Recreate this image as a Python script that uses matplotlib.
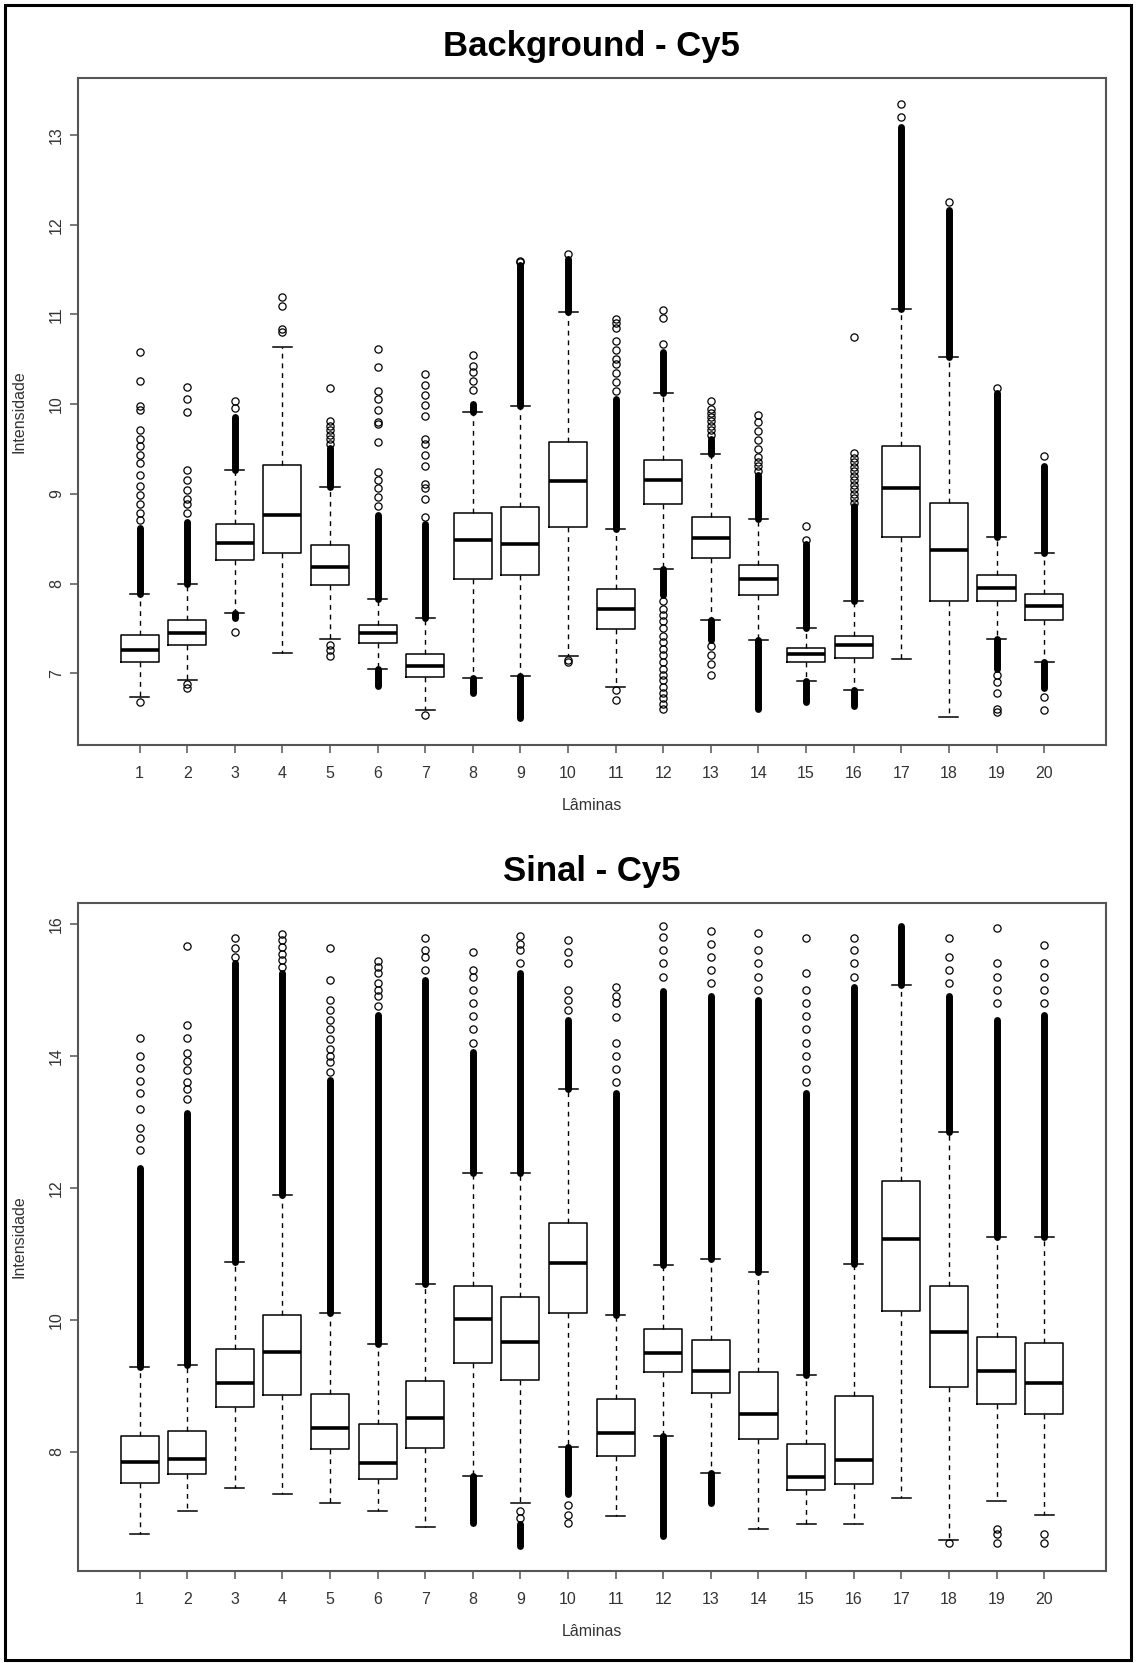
import matplotlib
matplotlib.use('Agg')
import matplotlib.pyplot as plt
from matplotlib.patches import Rectangle

plt.rcParams['font.family'] = ['Liberation Sans', 'DejaVu Sans']

# ---------------- data ----------------
laminas = ['1', '2', '3', '4', '5', '6', '7', '8', '9', '10',
           '11', '12', '13', '14', '15', '16', '17', '18', '19', '20']

# Background - Cy5
bg_whislo = [6.73, 6.92, 7.67, 7.23, 7.38, 7.05, 6.59, 6.95, 6.97, 7.19,
             6.85, 8.16, 7.59, 7.37, 6.91, 6.81, 7.16, 6.51, 7.38, 7.13]
bg_q1 = [7.13, 7.32, 8.26, 8.34, 7.98, 7.34, 6.96, 8.05, 8.09, 8.63,
         7.49, 8.89, 8.28, 7.87, 7.12, 7.17, 8.52, 7.80, 7.80, 7.59]
bg_med = [7.26, 7.45, 8.45, 8.76, 8.18, 7.45, 7.08, 8.49, 8.44, 9.14,
          7.72, 9.15, 8.51, 8.05, 7.21, 7.31, 9.07, 8.37, 7.95, 7.75]
bg_q3 = [7.43, 7.59, 8.66, 9.32, 8.43, 7.54, 7.22, 8.79, 8.85, 9.58,
         7.94, 9.38, 8.74, 8.21, 7.28, 7.42, 9.53, 8.90, 8.09, 7.88]
bg_whishi = [7.88, 7.99, 9.27, 10.64, 9.08, 7.83, 7.62, 9.91, 9.98, 11.03,
             8.61, 10.13, 9.44, 8.72, 7.51, 7.80, 11.06, 10.53, 8.52, 8.34]
# ranges where the outlier circles overlap into a solid column
bg_dense_up = [(7.88, 8.62), (7.99, 8.69), (9.27, 9.86), None, (9.08, 9.51),
               (7.83, 8.76), (7.62, 8.66), (9.91, 10.00), (9.98, 11.55), (11.03, 11.62),
               (8.61, 10.06), (10.13, 10.58), (9.44, 9.61), (8.72, 9.21), (7.51, 8.44),
               (7.80, 8.86), (11.06, 13.09), (10.53, 12.17), (8.52, 10.13), (8.34, 9.31)]
bg_dense_low = [None, None, (7.62, 7.67), None, None,
                (6.86, 7.05), None, (6.78, 6.95), (6.50, 6.97), None,
                None, (7.87, 8.16), (7.37, 7.59), (6.60, 7.37), (6.68, 6.91),
                (6.64, 6.81), None, None, (7.05, 7.38), (6.83, 7.13)]
bg_fliers = [
    [6.68, 8.71, 8.79, 8.89, 8.99, 9.09, 9.21, 9.34, 9.43, 9.53, 9.61, 9.71, 9.93, 9.98, 10.26, 10.58],
    [6.88, 6.83, 8.79, 8.89, 8.94, 9.04, 9.16, 9.27, 9.91, 10.06, 10.19],
    [7.46, 9.96, 10.04],
    [10.80, 10.84, 11.10, 11.19],
    [7.32, 7.26, 7.19, 9.56, 9.61, 9.66, 9.71, 9.76, 9.81, 10.18],
    [8.86, 8.96, 9.06, 9.16, 9.24, 9.58, 9.78, 9.80, 9.93, 10.06, 10.15, 10.42, 10.62],
    [6.54, 8.74, 8.94, 9.06, 9.11, 9.31, 9.43, 9.56, 9.61, 9.87, 9.99, 10.10, 10.21, 10.34],
    [10.16, 10.26, 10.36, 10.43, 10.55],
    [11.58, 11.60],
    [7.15, 7.13, 11.67],
    [6.81, 6.70, 10.15, 10.25, 10.35, 10.45, 10.50, 10.60, 10.70, 10.85, 10.90, 10.95],
    [7.80, 7.72, 7.65, 7.58, 7.50, 7.42, 7.35, 7.27, 7.20, 7.12, 7.05, 6.98, 6.92, 6.85,
     6.78, 6.72, 6.66, 6.60, 10.67, 10.96, 11.05],
    [7.30, 7.20, 7.10, 6.98, 9.66, 9.71, 9.76, 9.81, 9.86, 9.90, 9.95, 10.03],
    [9.26, 9.31, 9.36, 9.41, 9.50, 9.60, 9.70, 9.80, 9.88],
    [8.49, 8.64],
    [8.90, 8.95, 9.00, 9.05, 9.10, 9.15, 9.20, 9.25, 9.30, 9.35, 9.40, 9.46, 10.75],
    [13.20, 13.35],
    [12.25],
    [6.98, 6.90, 6.78, 6.60, 6.57, 10.18],
    [6.73, 6.59, 9.42],
]

# Sinal - Cy5
sg_whislo = [6.76, 7.10, 7.45, 7.36, 7.23, 7.10, 6.86, 7.63, 7.22, 8.08,
             7.03, 8.24, 7.68, 6.83, 6.90, 6.90, 7.30, 6.67, 7.25, 7.05]
sg_q1 = [7.53, 7.66, 8.68, 8.86, 8.05, 7.59, 8.06, 9.35, 9.09, 10.11,
         7.94, 9.21, 8.89, 8.20, 7.43, 7.51, 10.13, 8.99, 8.73, 8.58]
sg_med = [7.85, 7.89, 9.04, 9.51, 8.36, 7.83, 8.52, 10.02, 9.66, 10.86,
          8.29, 9.50, 9.23, 8.58, 7.62, 7.88, 11.22, 9.81, 9.22, 9.04]
sg_q3 = [8.24, 8.32, 9.56, 10.07, 8.87, 8.42, 9.07, 10.51, 10.34, 11.46,
         8.80, 9.86, 9.70, 9.21, 8.12, 8.85, 12.10, 10.52, 9.74, 9.65]
sg_whishi = [9.29, 9.31, 10.87, 11.89, 10.10, 9.64, 10.55, 12.23, 12.22, 13.50,
             10.07, 10.83, 10.92, 10.72, 9.17, 10.84, 15.08, 12.84, 11.25, 11.25]
sg_dense_up = [(9.29, 12.30), (9.31, 13.14), (10.87, 15.40), (11.89, 15.26), (10.10, 13.64),
               (9.64, 14.62), (10.55, 15.15), (12.23, 14.06), (12.22, 15.26), (13.50, 14.55),
               (10.07, 13.43), (10.83, 14.98), (10.92, 14.90), (10.72, 14.84), (9.17, 13.43),
               (10.84, 15.05), (15.08, 15.96), (12.84, 14.90), (11.25, 14.55), (11.25, 14.62)]
sg_dense_low = [None, None, None, None, None,
                None, None, (6.93, 7.63), (6.58, 6.90), (7.36, 8.08),
                None, (6.72, 8.24), (7.22, 7.68), None, None,
                None, None, None, None, None]
sg_fliers = [
    [12.58, 12.75, 12.90, 13.20, 13.43, 13.62, 13.81, 13.99, 14.27],
    [13.35, 13.50, 13.60, 13.78, 13.92, 14.05, 14.27, 14.46, 15.66],
    [15.50, 15.63, 15.79],
    [15.35, 15.45, 15.55, 15.65, 15.75, 15.84],
    [13.75, 13.90, 14.00, 14.10, 14.25, 14.40, 14.55, 14.70, 14.84, 15.15, 15.63],
    [14.75, 14.90, 15.00, 15.10, 15.25, 15.35, 15.44],
    [15.30, 15.50, 15.60, 15.79],
    [14.20, 14.40, 14.60, 14.80, 15.00, 15.20, 15.30, 15.58],
    [7.10, 7.00, 15.40, 15.60, 15.70, 15.82],
    [7.20, 7.05, 6.93, 14.70, 14.85, 15.00, 15.40, 15.57, 15.75],
    [13.60, 13.80, 14.00, 14.20, 14.59, 14.80, 14.90, 15.05],
    [15.20, 15.40, 15.60, 15.80, 15.96],
    [15.10, 15.30, 15.50, 15.70, 15.89],
    [15.00, 15.20, 15.40, 15.60, 15.86],
    [13.60, 13.80, 14.00, 14.20, 14.40, 14.60, 14.80, 15.00, 15.26, 15.79],
    [15.20, 15.40, 15.60, 15.79],
    [],
    [6.62, 15.10, 15.30, 15.50, 15.79],
    [6.83, 6.75, 6.62, 14.80, 15.00, 15.20, 15.40, 15.93],
    [6.76, 6.62, 14.80, 15.00, 15.20, 15.40, 15.68],
]

bg_yticks = [7, 8, 9, 10, 11, 12, 13]
sg_yticks = [8, 10, 12, 14, 16]

# ---------------- drawing ----------------
W, H = 1137, 1663
fig = plt.figure(figsize=(W / 100, H / 100), dpi=100)
fig.patch.set_facecolor('white')

# outer frame
fig.add_artist(Rectangle((5 / W, 3 / H), 1126 / W, 1655 / H, transform=fig.transFigure,
                         fill=False, edgecolor='black', linewidth=2.2))

AX_L, AX_W = 77.7 / W, (1106 - 77.7) / W
ax1 = fig.add_axes([AX_L, 1 - 745 / H, AX_W, (745 - 77.7) / H])
ax2 = fig.add_axes([AX_L, 1 - 1570.7 / H, AX_W, (1570.7 - 902.7) / H])

GRAY = '#555555'
TXT = '#333333'


def draw(ax, whislo, q1, med, q3, whishi, dense_up, dense_low, fliers, yticks, ylim, title):
    positions = list(range(1, len(laminas) + 1))
    stats = []
    for i in range(len(laminas)):
        stats.append(dict(whislo=whislo[i], q1=q1[i], med=med[i], q3=q3[i],
                          whishi=whishi[i], fliers=fliers[i], label=laminas[i]))
    ax.bxp(stats, positions=positions, widths=0.8, capwidths=0.4,
           boxprops=dict(color='black', linewidth=1.1),
           medianprops=dict(color='black', linewidth=2.6, solid_capstyle='butt'),
           whiskerprops=dict(color='black', linewidth=1.0, linestyle=(0, (3.5, 3.5))),
           capprops=dict(color='black', linewidth=1.1),
           flierprops=dict(marker='o', markerfacecolor='none', markeredgecolor='black',
                           markersize=5.2, markeredgewidth=0.9, linestyle='none'),
           showfliers=True)
    for i, p in enumerate(positions):
        for rng in (dense_up[i], dense_low[i]):
            if rng is not None:
                ax.vlines(p, rng[0], rng[1], colors='black', linewidth=5.0,
                          capstyle='round', zorder=3)
    ax.set_xlim(-0.3, 21.3)
    ax.set_ylim(*ylim)
    ax.set_yticks(yticks)
    ax.set_yticklabels([str(t) for t in yticks], rotation=90, va='center')
    ax.set_xticks(positions)
    ax.set_xticklabels(laminas)
    ax.tick_params(axis='both', direction='out', length=6, width=1.1, color=GRAY,
                   labelsize=11.5, labelcolor=TXT)
    ax.tick_params(axis='x', pad=9)
    ax.tick_params(axis='y', pad=4)
    for s in ax.spines.values():
        s.set_color(GRAY)
        s.set_linewidth(1.5)
    ax.set_xlabel('Lâminas', fontsize=11.5, color=TXT)
    ax.xaxis.label.set_va('center')
    ax.xaxis.set_label_coords(0.5, -0.0914)
    ax.set_ylabel('Intensidade', fontsize=11.5, color=TXT)
    ax.yaxis.label.set_va('center')
    ax.yaxis.set_label_coords(-0.057, 0.5)
    ax.text(0.5, 1.047, title, transform=ax.transAxes, ha='center', va='center',
            fontsize=25, fontweight='bold', color='black')


draw(ax1, bg_whislo, bg_q1, bg_med, bg_q3, bg_whishi, bg_dense_up, bg_dense_low,
     bg_fliers, bg_yticks, (6.2, 13.64), 'Background - Cy5')
draw(ax2, sg_whislo, sg_q1, sg_med, sg_q3, sg_whishi, sg_dense_up, sg_dense_low,
     sg_fliers, sg_yticks, (6.2, 16.32), 'Sinal - Cy5')

fig.savefig('out.png', dpi=100, facecolor='white')
